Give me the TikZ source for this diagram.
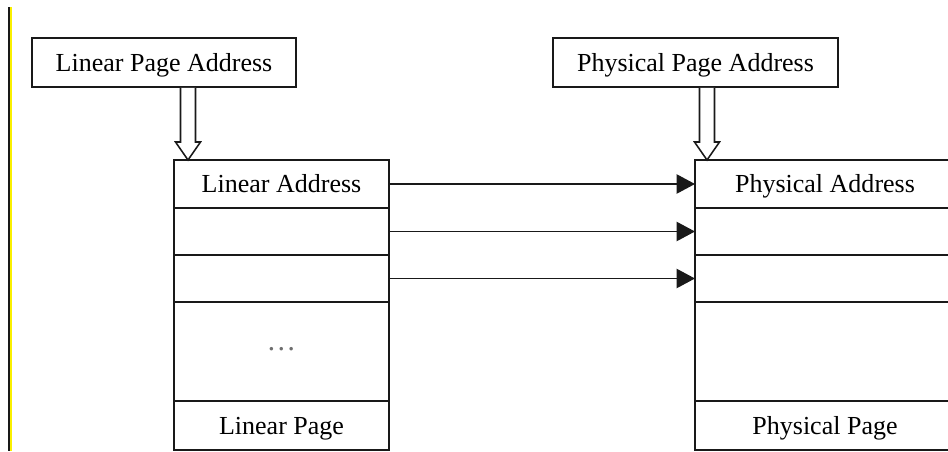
\documentclass[tikz,border=0pt]{standalone}
\usepackage{fontspec}
\setmainfont{Liberation Serif}
\usetikzlibrary{arrows.meta,positioning,calc}
\definecolor{PgBlack}{RGB}{25,25,25}
\definecolor{PgGray}{RGB}{110,110,110}
\definecolor{PgYellow}{RGB}{250,240,0}
\tikzset{
  pg/box/.style={
    draw=PgBlack,
    line width=1.3pt,
    fill=white,
    align=center,
    minimum height=1.225cm,
    inner sep=0pt,
    text height=12.6pt,
    text depth=0pt,
    font=\fontsize{18.5}{22}\selectfont
  },
  pg/row/.style={
    draw=PgBlack,
    line width=1.3pt,
    fill=white,
    align=center,
    inner sep=0pt,
    outer sep=0pt,
    text height=12.6pt,
    text depth=0pt,
    font=\fontsize{18.5}{22}\selectfont
  },
  pg/arrow/.style={-{Triangle[length=4.6mm,width=4.8mm]}, line width=1.3pt, draw=PgBlack},
  pg/hollow/.style={draw=PgBlack, line width=1.1pt, fill=white, line join=miter},
  pg/dots/.style={text=PgGray, font=\fontsize{21}{24}\selectfont}
}

\begin{document}
\begin{tikzpicture}[x=1cm,y=1cm]
  \useasboundingbox (0,0) rectangle (23.7,11.275);
  \clip (0,0) rectangle (23.7,11.275);
  % left border strip
  \fill[PgBlack] (0.2125,0) rectangle (0.25,11.1);
  \fill[PgYellow] (0.25,0) rectangle (0.3,11.1);

  \node[pg/box,minimum width=6.6cm] (linpage) at (4.1,9.7125) {Linear Page Address};
  \node[pg/box,minimum width=7.125cm] (physpage) at (17.3875,9.7125) {Physical Page Address};

  % linear table
  \node[pg/row,anchor=north,minimum width=5.375cm,minimum height=1.2cm] (lin1) at (7.0375,7.275) {Linear Address};
  \node[pg/row,below=0pt of lin1,minimum width=5.375cm,minimum height=1.175cm] (lin2) {};
  \node[pg/row,below=0pt of lin2,minimum width=5.375cm,minimum height=1.175cm] (lin3) {};
  \node[pg/row,below=0pt of lin3,minimum width=5.375cm,minimum height=2.475cm] (lin4) {};
  \node[pg/row,below=0pt of lin4,minimum width=5.375cm,minimum height=1.225cm] (lin5) {Linear Page};
  \node[pg/dots] (lindots) at ($(lin4.center)+(0,0.05)$) {\ldots};

  % physical table
  \node[pg/row,anchor=north,minimum width=6.5cm,minimum height=1.2cm] (phys1) at (20.625,7.275) {Physical Address};
  \node[pg/row,below=0pt of phys1,minimum width=6.5cm,minimum height=1.175cm] (phys2) {};
  \node[pg/row,below=0pt of phys2,minimum width=6.5cm,minimum height=1.175cm] (phys3) {};
  \node[pg/row,below=0pt of phys3,minimum width=6.5cm,minimum height=2.475cm] (phys4) {};
  \node[pg/row,below=0pt of phys4,minimum width=6.5cm,minimum height=1.225cm] (phys5) {Physical Page};

  \draw[pg/arrow] (lin1.east) -- (phys1.west);
  \draw[pg/arrow] (lin2.east) -- (phys2.west);
  \draw[pg/arrow] (lin3.east) -- (phys3.west);

  % hollow arrows into the tables
  \coordinate (lintop) at ($(linpage.south)+(0.6,0)$);
  \coordinate (lintip) at (lintop |- lin1.north);
  \coordinate (phystop) at ($(physpage.south)+(0.2875,0)$);
  \coordinate (phystip) at (phystop |- phys1.north);
  \foreach \top/\tip in {lintop/lintip,phystop/phystip}
    \draw[pg/hollow] ($(\top)+(-0.1875,0)$) -- ($(\tip)+(-0.1875,0.45)$)
      -- ($(\tip)+(-0.3125,0.45)$) -- (\tip) -- ($(\tip)+(0.3125,0.45)$)
      -- ($(\tip)+(0.1875,0.45)$) -- ($(\top)+(0.1875,0)$);
\end{tikzpicture}
\end{document}
